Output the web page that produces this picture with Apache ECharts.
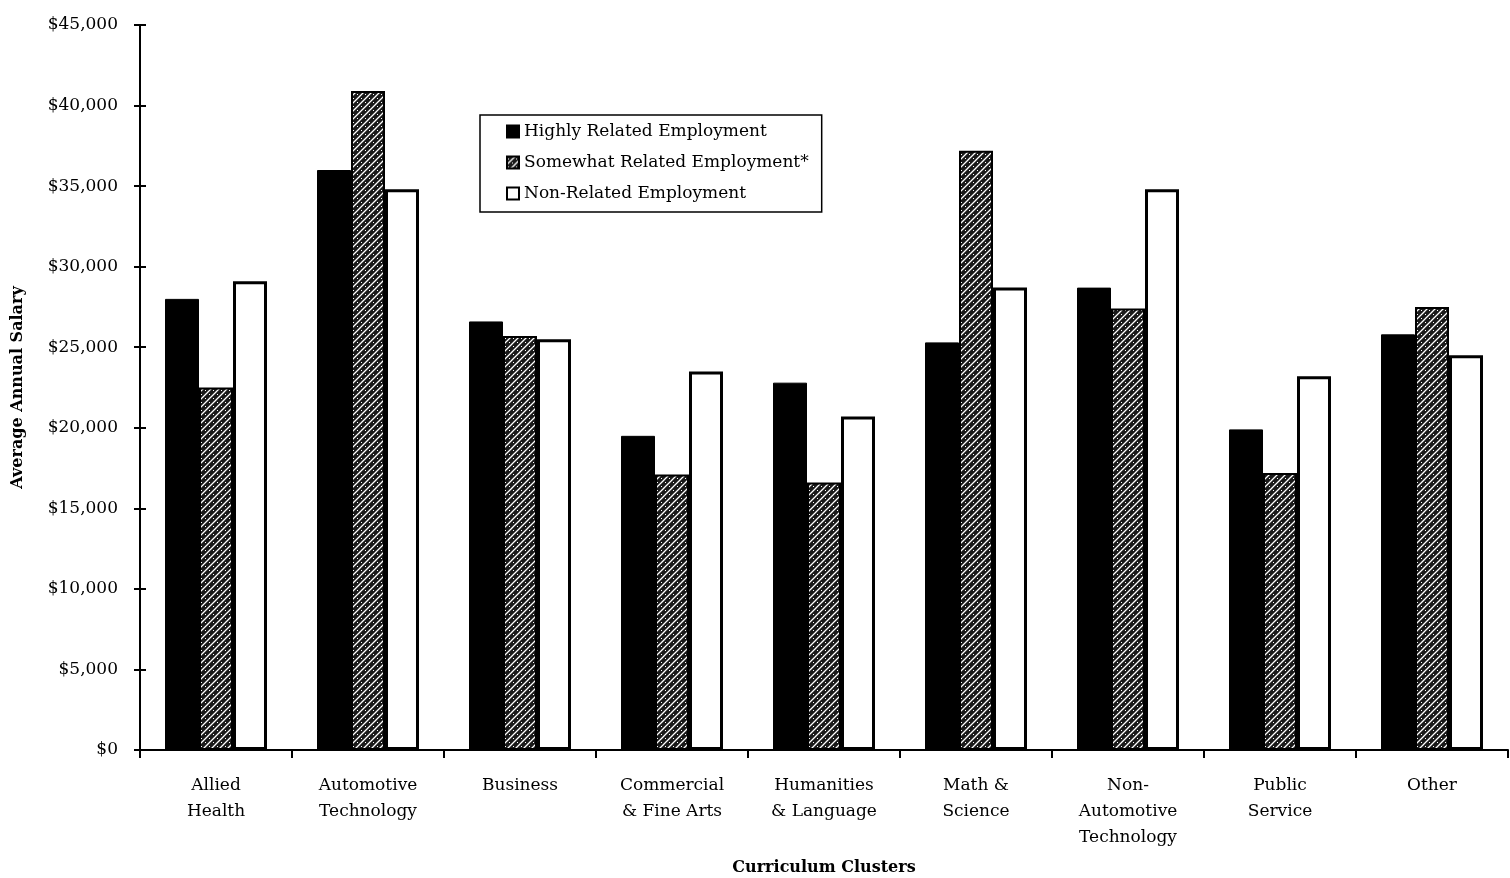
<!DOCTYPE html>
<html>
<head>
<meta charset="utf-8">
<script src="https://cdn.jsdelivr.net/npm/echarts@6/dist/echarts.min.js"></script>
<style>
html,body{margin:0;padding:0;background:#fff;}
#chart{width:1510px;height:878px;}
</style>
</head>
<body>
<div id="chart"></div>
<script>
const categories = ["Allied\nHealth", "Automotive\nTechnology", "Business", "Commercial\n& Fine Arts", "Humanities\n& Language", "Math &\nScience", "Non-\nAutomotive\nTechnology", "Public\nService", "Other"];
const highlyRelated   = [28000, 36000, 26600, 19500, 22800, 25300, 28700, 19900, 25800];
const somewhatRelated = [22500, 40900, 25700, 17100, 16600, 37200, 27400, 17200, 27500];
const nonRelated      = [29100, 34800, 25500, 23500, 20700, 28700, 34800, 23200, 24500];
const seriesNames = ["Highly Related Employment", "Somewhat Related Employment*", "Non-Related Employment"];

// hatch pattern for "somewhat related"
const pc = document.createElement('canvas');
pc.width = 8; pc.height = 8;
const ctx = pc.getContext('2d');
ctx.fillStyle = '#1a1a1a';
ctx.fillRect(0, 0, 8, 8);
ctx.strokeStyle = '#ffffff';
ctx.lineWidth = 1.3;
ctx.beginPath();
ctx.moveTo(0, 8); ctx.lineTo(8, 0);
ctx.moveTo(-2, 2); ctx.lineTo(2, -2);
ctx.moveTo(6, 10); ctx.lineTo(10, 6);
ctx.stroke();
ctx.fillStyle = '#ffffff';
ctx.fillRect(1, 2, 1, 1);
ctx.fillRect(5, 6, 1, 1);

const font = 'DejaVu Serif';
const chart = echarts.init(document.getElementById('chart'), null, {renderer: 'canvas'});
const money = v => '$' + v.toLocaleString('en-US');

chart.setOption({
  animation: false,
  backgroundColor: '#ffffff',
  grid: {left: 140, right: 2, top: 25, bottom: 128, containLabel: false, outerBoundsMode: 'none'},
  legend: {
    orient: 'vertical',
    left: 480, top: 115,
    itemWidth: 12, itemHeight: 12, itemGap: 14,
    padding: [8, 13, 10, 26],
    borderColor: '#000', borderWidth: 1.5,
    textStyle: {fontFamily: font, fontSize: 17, color: '#000'},
    data: seriesNames.map(n => ({name: n, icon: 'rect'}))
  },
  xAxis: {
    type: 'category',
    data: categories,
    axisLine: {lineStyle: {color: '#000', width: 2}},
    axisTick: {show: true, length: 8, lineStyle: {color: '#000', width: 2}},
    axisLabel: {fontFamily: font, fontSize: 17, color: '#000', margin: 23, lineHeight: 26, align: 'center', interval: 0},
    name: 'Curriculum Clusters',
    nameLocation: 'middle',
    nameGap: 110,
    nameTextStyle: {fontFamily: font, fontSize: 16, fontWeight: 'bold', color: '#000'}
  },
  yAxis: [{
    type: 'value',
    min: 0, max: 45000, interval: 5000,
    axisLine: {show: true, lineStyle: {color: '#000', width: 2}},
    axisTick: {show: true, length: 6, lineStyle: {color: '#000', width: 2}},
    splitLine: {show: false},
    axisLabel: {fontFamily: font, fontSize: 17, color: '#000', margin: 22, formatter: money},
    name: 'Average Annual Salary',
    nameLocation: 'middle',
    nameGap: 114,
    nameTextStyle: {fontFamily: font, fontSize: 16, fontWeight: 'bold', color: '#000'}
  }, {
    type: 'value',
    position: 'left',
    min: 0, max: 45000, interval: 5000,
    axisLine: {show: false},
    axisTick: {show: true, inside: true, length: 6, lineStyle: {color: '#000', width: 2}},
    axisLabel: {show: false},
    splitLine: {show: false}
  }],
  series: [
    {
      name: seriesNames[0], type: 'bar', data: highlyRelated,
      barWidth: 34, barGap: '0%',
      itemStyle: {color: '#000', borderColor: '#000', borderWidth: 1}
    },
    {
      name: seriesNames[1], type: 'bar', data: somewhatRelated,
      barWidth: 34, barGap: '0%',
      itemStyle: {color: {image: pc, repeat: 'repeat'}, borderColor: '#000', borderWidth: 2}
    },
    {
      name: seriesNames[2], type: 'bar', data: nonRelated,
      barWidth: 34, barGap: '0%',
      itemStyle: {color: '#fff', borderColor: '#000', borderWidth: 3}
    }
  ]
});
</script>
</body>
</html>
